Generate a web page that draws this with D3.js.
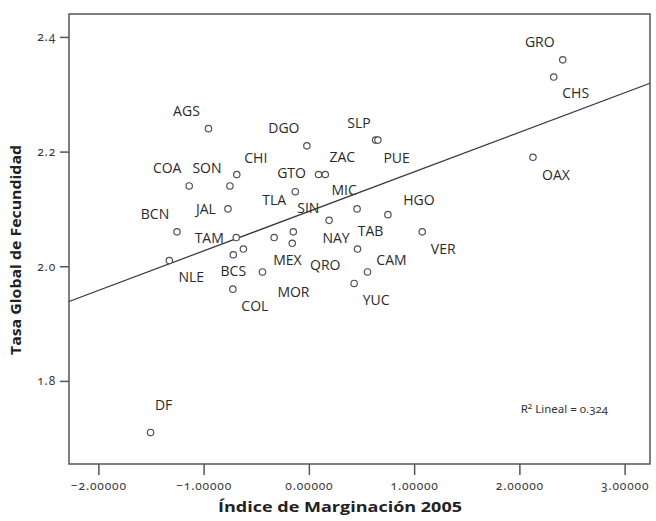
<!DOCTYPE html>
<html>
<head>
<meta charset="utf-8">
<script src="https://cdn.jsdelivr.net/npm/d3@7"></script>
<style>
  body { margin: 0; background: #fff; }
  svg { display: block; }
  .num { font-family: 'Noto Sans', 'Open Sans', sans-serif; font-feature-settings: "onum" 1; font-variant-numeric: oldstyle-nums; }
</style>
</head>
<body>
<svg id="chart" width="656" height="521"></svg>
<script>
// Entidades federativas, índice de marginación 2005 y tasa global de fecundidad
const states = ["AGS","BCN","BCS","CAM","COA","COL","CHS","CHI","DF","DGO","GTO","GRO","HGO","JAL","MEX","MIC",
                "MOR","NAY","NLE","OAX","PUE","QRO","QROO","SLP","SIN","SON","TAB","TAM","TLA","VER","YUC","ZAC"];
const marginacion = [-0.954,-1.253,-0.718,0.557,-1.137,-0.722,2.326,-0.685,-1.504,-0.019,0.092,2.412,0.751,-0.769,-0.622,0.458,
                     -0.441,0.192,-1.326,2.129,0.634,-0.158,-0.330,0.656,-0.148,-0.750,0.462,-0.690,-0.129,1.077,0.430,0.156];
const fecundidad = [2.24,2.06,2.02,1.99,2.14,1.96,2.33,2.16,1.71,2.21,2.16,2.36,2.09,2.10,2.03,2.10,
                    1.99,2.08,2.01,2.19,2.22,2.04,2.05,2.22,2.06,2.14,2.03,2.05,2.13,2.06,1.97,2.16];
const showLabel = states.map(s => s !== "QROO");

// Posición de cada etiqueta respecto a su punto (px)
const labelDx = [-22,-22,0,24,-22,22,22,19,13,-23,-27,-23,31,-22,44,-13,31,7,22,23,21,33,0,-19,15,-23,13,-27,-21,21,22,17];
const labelDy = [-18,-18,16,-12,-18,16,15,-17,-28,-18,-2,-18,-15,0,10,-19,20,17,16,17,17,21,0,-18,-24,-18,-19,0,8,17,16,-18];

const xTicks = [-2, -1, 0, 1, 2, 3];
const yTicks = [1.8, 2.0, 2.2, 2.4];
const xDomain = [-2.279, 3.241];
const yDomain = [1.655, 2.440];
const r2Value = 0.324;

const W = 656, H = 521;
const margin = { top: 14, right: 6, bottom: 57, left: 69 };
const svg = d3.select("#chart");

const x = d3.scaleLinear().domain(xDomain).range([margin.left, W - margin.right]);
const y = d3.scaleLinear().domain(yDomain).range([H - margin.bottom, margin.top]);

const frameColor = "#555";
const titleFont = "'Open Sans', 'Noto Sans', sans-serif";

// Ejes
const xAxis = svg.append("g")
  .attr("transform", `translate(0,${H - margin.bottom})`)
  .call(d3.axisBottom(x).tickValues(xTicks).tickFormat(d3.format(".5f")).tickSize(11).tickPadding(6));
const yAxis = svg.append("g")
  .attr("transform", `translate(${margin.left},0)`)
  .call(d3.axisLeft(y).tickValues(yTicks).tickFormat(d3.format(".1f")).tickSize(9).tickPadding(4));

[xAxis, yAxis].forEach(g => {
  g.select(".domain").remove();
  g.selectAll(".tick line").attr("stroke", frameColor).attr("stroke-width", 1.5);
  g.selectAll(".tick text")
    .attr("class", "num")
    .attr("fill", "#3a3a3a")
    .style("font-size", "12px")
    .style("letter-spacing", "0.8px");
});

// Marco del área de datos
svg.append("rect")
  .attr("x", margin.left).attr("y", margin.top)
  .attr("width", W - margin.left - margin.right)
  .attr("height", H - margin.top - margin.bottom)
  .attr("fill", "none").attr("stroke", frameColor).attr("stroke-width", 1.5);

// Recta de ajuste por mínimos cuadrados
const mx = d3.mean(marginacion), my = d3.mean(fecundidad);
let sxy = 0, sxx = 0;
marginacion.forEach((v, i) => { sxy += (v - mx) * (fecundidad[i] - my); sxx += (v - mx) * (v - mx); });
const slope = sxy / sxx, intercept = my - slope * mx;

svg.append("line")
  .attr("x1", x(xDomain[0])).attr("y1", y(intercept + slope * xDomain[0]))
  .attr("x2", x(xDomain[1])).attr("y2", y(intercept + slope * xDomain[1]))
  .attr("stroke", "#333").attr("stroke-width", 1.2);

// Puntos
svg.append("g").selectAll("circle")
  .data(states.map((s, i) => i))
  .join("circle")
  .attr("cx", i => x(marginacion[i]))
  .attr("cy", i => y(fecundidad[i]))
  .attr("r", 3.2)
  .attr("fill", "#fff")
  .attr("stroke", "#505050")
  .attr("stroke-width", 1.2);

// Etiquetas de las entidades
svg.append("g").selectAll("text")
  .data(states.map((s, i) => i).filter(i => showLabel[i]))
  .join("text")
  .attr("x", i => x(marginacion[i]) + labelDx[i])
  .attr("y", i => y(fecundidad[i]) + labelDy[i])
  .attr("text-anchor", "middle")
  .attr("dominant-baseline", "central")
  .attr("fill", "#2a2a2a")
  .style("font-family", "'Open Sans', sans-serif")
  .style("font-size", "14px")
  .text(i => states[i]);

// R²
svg.append("text")
  .attr("class", "num")
  .attr("x", 608).attr("y", 413)
  .attr("text-anchor", "end")
  .attr("fill", "#333")
  .style("font-size", "11.5px")
  .html(`R<tspan dy="-4" font-size="8px">2</tspan><tspan dy="4"> Lineal = ${r2Value.toFixed(3)}</tspan>`);

// Títulos de los ejes
svg.append("text")
  .attr("x", 340).attr("y", 512)
  .attr("text-anchor", "middle")
  .attr("fill", "#222")
  .attr("textLength", 244)
  .attr("lengthAdjust", "spacingAndGlyphs")
  .style("font-family", titleFont)
  .style("font-weight", "bold")
  .style("font-size", "15px")
  .text("Índice de Marginación 2005");

svg.append("text")
  .attr("transform", `translate(21,250) rotate(-90)`)
  .attr("text-anchor", "middle")
  .attr("fill", "#222")
  .attr("textLength", 210)
  .attr("lengthAdjust", "spacingAndGlyphs")
  .style("font-family", titleFont)
  .style("font-weight", "bold")
  .style("font-size", "14px")
  .text("Tasa Global de Fecundidad");
</script>
</body>
</html>
